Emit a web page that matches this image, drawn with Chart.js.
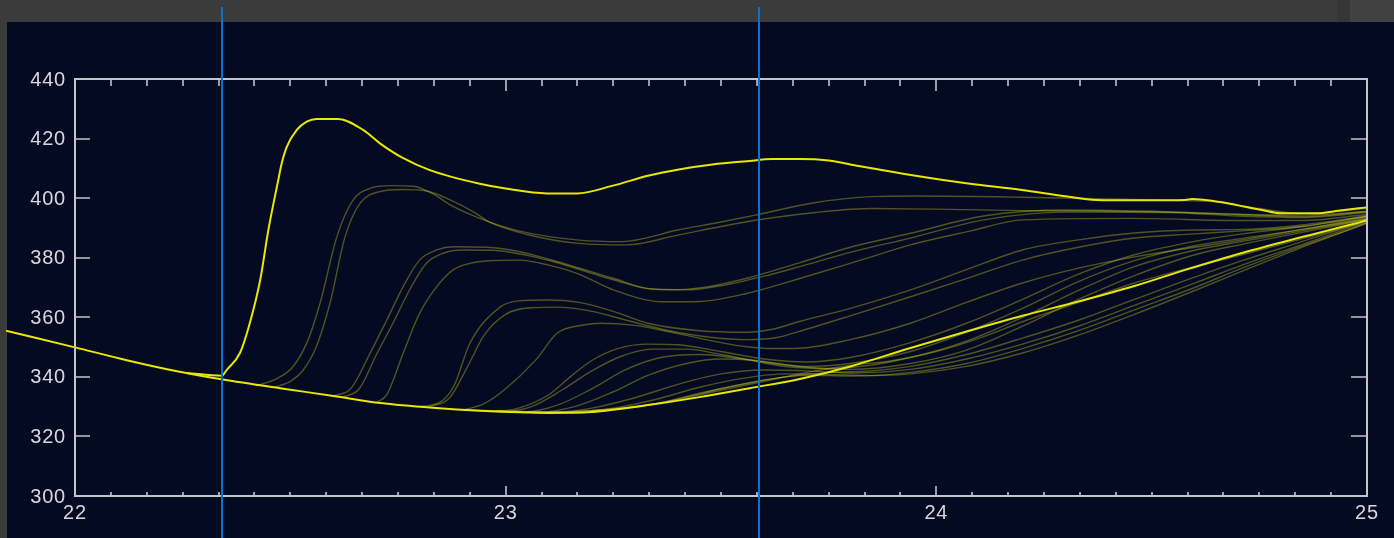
<!DOCTYPE html>
<html>
<head>
<meta charset="utf-8">
<script src="https://cdn.jsdelivr.net/npm/chart.js@4/dist/chart.umd.min.js"></script>
<style>
  html, body { margin: 0; padding: 0; background: #3b3b3b; overflow: hidden; }
  canvas { display: block; }
</style>
</head>
<body>
<canvas id="chart" width="1394" height="538"></canvas>
<script>
// Axis ranges and ticks
const xRange = [22, 25];
const yRange = [300, 440];
const xTicks = [22, 23, 24, 25];
const xMinorPerUnit = 12;
const yTicks = [300, 320, 340, 360, 380, 400, 420, 440];

// Vertical marker times (blue lines)
const markerTimes = [22.341, 23.588];

// Lower envelope (bright)
const baseline = [[21.84,355.5],[22.0,349.9],[22.12,345.6],[22.24,341.8],[22.34,339.2],[22.48,336.1],[22.6,333.6],[22.71,331.2],[22.83,329.6],[22.94,328.6],[23.1,327.9],[23.2,328.2],[23.335,330.6],[23.45,333.2],[23.567,336.2],[23.683,339.3],[23.8,343.5],[23.94,349.7],[24.07,355.2],[24.2,360.5],[24.33,365.3],[24.46,370.5],[24.58,376],[24.71,381.6],[24.84,386.6],[24.97,391.4],[25.0,392.6]];

// Upper envelope (bright)
const upper = [[22.26,341.3],[22.341,340.4],[22.352,342.3],[22.383,348],[22.406,358.1],[22.43,372.5],[22.449,389.3],[22.472,406.1],[22.48,411.7],[22.492,417.3],[22.515,422.9],[22.538,425.7],[22.561,426.6],[22.611,426.6],[22.669,422.9],[22.708,418.4],[22.76,413.6],[22.824,409.4],[22.94,404.8],[23.0,403.2],[23.096,401.6],[23.166,401.6],[23.249,404.2],[23.33,407.5],[23.405,409.7],[23.48,411.3],[23.56,412.4],[23.62,413.1],[23.683,413.1],[23.75,412.6],[23.82,410.8],[23.941,407.8],[24.07,405],[24.199,402.7],[24.3,400.6],[24.371,399.4],[24.48,399.3],[24.577,399.4],[24.594,399.7],[24.663,398.6],[24.72,397],[24.756,396],[24.8,394.9],[24.886,394.9],[24.928,395.7],[25.0,396.9]];

// Intermediate members (dim)
const memberA1 = [[22.42,337.0],[22.47,339.5],[22.506,343.4],[22.54,352],[22.569,364.7],[22.608,387],[22.646,399.4],[22.685,403.3],[22.73,404.2],[22.785,404.0],[22.83,401.5],[22.878,397.2],[22.94,393.2],[23.03,389],[23.17,385.9],[23.27,385.4],[23.4,389.3],[23.5,392],[23.58,394.3],[23.71,398.3],[23.85,400.5],[23.95,400.7],[24.2,400.3],[24.4,399.7],[24.55,399.3],[24.65,398.8],[24.75,396.5],[24.85,394.8],[25.0,396.5]];
const memberA2 = [[22.46,336.4],[22.5,338.5],[22.53,342.3],[22.56,350],[22.592,364.7],[22.627,387],[22.662,398.3],[22.708,402.2],[22.76,402.9],[22.817,402.4],[22.87,399.5],[22.93,395],[22.96,392.1],[23.05,387.8],[23.17,384.8],[23.28,384.3],[23.4,387.6],[23.5,390.5],[23.6,393],[23.72,395.2],[23.85,396.5],[24.0,396.3],[24.2,395.8],[24.4,395.6],[24.55,395.3],[24.7,394.6],[24.85,394.3],[25.0,395.5]];
const memberB1 = [[22.6,333.6],[22.64,336],[22.685,347.9],[22.724,359.1],[22.762,370.3],[22.8,379.2],[22.84,382.6],[22.878,383.7],[22.957,383.5],[23.033,382],[23.1,379.5],[23.25,373.1],[23.33,369.7],[23.4,369.3],[23.47,370.3],[23.56,373.1],[23.68,378.2],[23.8,383.5],[23.94,388.2],[24.11,394],[24.3,396],[24.54,395.4],[24.7,394.5],[24.85,393.8],[25.0,395.5]];
const memberB2 = [[22.62,333.1],[22.66,336],[22.7,347.5],[22.74,358.5],[22.778,369.5],[22.815,378],[22.855,381.5],[22.9,382.6],[22.97,382.5],[23.05,380.8],[23.12,378.3],[23.25,372.6],[23.34,369.4],[23.42,369.2],[23.5,370.6],[23.6,373.8],[23.68,376.9],[23.8,381.8],[23.94,386.6],[24.11,392.7],[24.3,395.3],[24.54,395.2],[24.7,394],[24.85,393.5],[25.0,395.2]];
const memberB3 = [[22.7,331.4],[22.724,334],[22.762,347.9],[22.8,361.3],[22.84,370.3],[22.878,375.9],[22.917,378.1],[22.96,379],[23.03,379.2],[23.1,377.5],[23.17,374.5],[23.25,369.2],[23.365,365.2],[23.45,365.3],[23.56,368],[23.71,374.2],[23.82,379],[23.94,384.3],[24.08,389],[24.2,392.7],[24.46,393.2],[24.7,392.5],[24.85,392.5],[25.0,394.5]];
const memberC1 = [[22.8,330],[22.848,331.5],[22.88,337],[22.917,351.3],[22.987,363.4],[23.03,365.5],[23.1,365.8],[23.17,365],[23.25,362],[23.33,358],[23.45,355.5],[23.56,355],[23.62,356],[23.68,358.5],[23.8,363],[23.94,369.2],[24.07,376],[24.2,382.6],[24.33,386],[24.46,388.3],[24.6,389.3],[24.71,389.5],[24.85,391],[25.0,394]];
const memberC2 = [[22.82,329.8],[22.87,333],[22.91,343],[22.95,354],[23.0,361],[23.06,363.2],[23.12,363.4],[23.2,362],[23.28,359],[23.38,355.5],[23.48,353.2],[23.56,352.5],[23.63,353.2],[23.68,355.2],[23.8,360.5],[23.94,366.9],[24.07,373],[24.2,379.2],[24.33,383.5],[24.46,386.6],[24.6,388],[24.71,389],[24.85,390.5],[25.0,393.8]];
const memberC3 = [[22.9,328.8],[22.95,331],[23.0,336],[23.07,345.7],[23.12,354.7],[23.18,357.4],[23.22,358],[23.3,357.3],[23.4,354.5],[23.5,351.5],[23.56,350.1],[23.62,349.5],[23.68,349.6],[23.8,352.5],[23.94,358],[24.07,365],[24.2,371.5],[24.33,376.5],[24.46,380.3],[24.6,383.5],[24.71,386],[24.85,389.5],[25.0,393]];
const memberD1 = [[22.9,328.9],[22.98,328.6],[23.03,329.5],[23.1,334],[23.15,340],[23.2,345.5],[23.26,349.5],[23.33,351],[23.4,350.8],[23.5,348.5],[23.6,346],[23.7,345],[23.8,346.5],[23.94,351.5],[24.07,358],[24.2,366],[24.33,374.5],[24.46,381],[24.6,385.5],[24.71,388],[24.85,390.5],[25.0,394]];
const memberD2 = [[22.92,328.8],[23.0,328.5],[23.06,330],[23.13,335.5],[23.2,342],[23.27,347],[23.34,349.3],[23.42,349.3],[23.5,347.5],[23.6,345],[23.7,343.5],[23.8,344.5],[23.94,348.5],[24.07,355],[24.2,363],[24.33,372],[24.46,379],[24.6,384],[24.71,386.5],[24.85,389.5],[25.0,393.5]];
const memberD3 = [[22.95,328.7],[23.05,328.3],[23.12,330.5],[23.2,336],[23.28,342.5],[23.36,346.5],[23.45,347.5],[23.55,346],[23.65,343.5],[23.75,342.8],[23.85,344],[23.94,346.5],[24.07,352],[24.2,360],[24.33,369],[24.46,377],[24.6,382.5],[24.71,385.5],[24.85,389],[25.0,393]];
const memberD4 = [[22.98,328.6],[23.08,328.2],[23.16,330],[23.25,335],[23.33,340.5],[23.42,344.5],[23.5,346],[23.58,345.5],[23.68,343.5],[23.8,342.5],[23.94,344.5],[24.07,349],[24.2,357],[24.33,366],[24.46,374],[24.6,381],[24.71,384.5],[24.85,388.5],[25.0,392.8]];
const memberE1 = [[23.02,328.4],[23.12,328.2],[23.2,329.5],[23.3,333],[23.4,337.5],[23.5,341],[23.6,342.3],[23.7,342],[23.8,341.3],[23.94,342.5],[24.07,346],[24.2,351],[24.33,357],[24.46,364],[24.6,371.5],[24.71,377.5],[24.84,384],[24.97,390.5],[25.0,392]];
const memberE2 = [[23.05,328.3],[23.15,328.3],[23.25,329.5],[23.35,332.5],[23.45,336.5],[23.55,339.5],[23.65,341],[23.75,340.8],[23.85,340.5],[23.94,341.5],[24.07,344.5],[24.2,349.5],[24.33,355.5],[24.46,362.5],[24.6,370],[24.71,376.5],[24.84,383.5],[24.97,390],[25.0,391.5]];
const memberE3 = [[23.1,328.2],[23.2,328.6],[23.3,329.8],[23.4,332.5],[23.5,336],[23.6,339],[23.7,340.5],[23.8,340.3],[23.94,341],[24.07,343.5],[24.2,348],[24.33,354],[24.46,361],[24.6,369],[24.71,375.5],[24.84,383],[24.97,390],[25.0,391.8]];
const memberE4 = [[23.15,328.3],[23.25,329.2],[23.35,331],[23.45,334.5],[23.55,337.5],[23.65,340],[23.75,341.5],[23.85,342],[23.94,343.5],[24.07,347.5],[24.2,353],[24.33,359],[24.46,366],[24.6,373.5],[24.71,379],[24.84,385],[24.97,391],[25.0,392.5]];
const memberF1 = [[23.2,328.6],[23.3,330],[23.4,332.3],[23.5,335.5],[23.6,338.5],[23.7,341.5],[23.8,343.8],[23.9,345.5],[24.0,348.5],[24.1,353],[24.2,358.5],[24.33,365],[24.46,371.5],[24.6,377],[24.71,381],[24.84,386],[24.97,391],[25.0,392.5]];

const members = [memberA1, memberA2, memberB1, memberB2, memberB3, memberC1, memberC2, memberC3,
                 memberD1, memberD2, memberD3, memberD4, memberE1, memberE2, memberE3, memberE4, memberF1];

const NAVY = '#040a22';
const AXIS = '#c4c4ca';
const LABEL = '#d8d8dc';

const toXY = pts => pts.map(p => ({ x: p[0], y: p[1] }));

const datasets = [];
datasets.push({ data: toXY(upper), borderColor: '#e8e800', borderWidth: 2, order: 0 });
datasets.push({ data: toXY(baseline), borderColor: '#e8e800', borderWidth: 2, order: 0 });
members.forEach(m => datasets.push({
  data: toXY(m), borderColor: 'rgba(215,215,35,0.36)', borderWidth: 1.4, order: 1
}));
datasets.forEach(d => {
  d.showLine = true; d.pointRadius = 0; d.pointHoverRadius = 0;
  d.cubicInterpolationMode = 'monotone'; d.clip = false; d.fill = false;
});

const framePlugin = {
  id: 'framePlugin',
  beforeDraw(chart) {
    const c = chart.ctx;
    c.save();
    c.fillStyle = '#3b3b3b';
    c.fillRect(0, 0, chart.width, chart.height);
    c.fillStyle = '#363636';
    c.fillRect(1337, 0, 13, 22);
    c.fillStyle = '#414141';
    c.fillRect(1350, 0, chart.width - 1350, 22);
    c.fillStyle = NAVY;
    c.fillRect(7, 22, chart.width - 7, chart.height - 22);
    c.restore();
  },
  afterDatasetsDraw(chart) {
    const c = chart.ctx;
    const a = chart.chartArea;
    const xs = chart.scales.x, ys = chart.scales.y;
    const L = Math.round(a.left), R = Math.round(a.right), T = Math.round(a.top), B = Math.round(a.bottom);
    c.save();
    c.strokeStyle = AXIS;
    c.lineWidth = 2;
    c.strokeRect(L, T, R - L, B - T);

    // x ticks: minor every 1/12, major on whole units
    c.lineWidth = 1.6;
    c.beginPath();
    const n = (xRange[1] - xRange[0]) * xMinorPerUnit;
    for (let i = 0; i <= n; i++) {
      const v = xRange[0] + i / xMinorPerUnit;
      const px = Math.round(xs.getPixelForValue(v));
      const major = i % xMinorPerUnit === 0;
      c.moveTo(px, T); c.lineTo(px, T + (major ? 12 : 7));
      c.moveTo(px, B); c.lineTo(px, B - (major ? 10 : 4));
    }
    // y ticks
    yTicks.forEach(v => {
      const py = Math.round(ys.getPixelForValue(v));
      c.moveTo(L, py); c.lineTo(L + 15, py);
      c.moveTo(R, py); c.lineTo(R - 16, py);
    });
    c.stroke();

    // tick labels
    c.fillStyle = LABEL;
    c.font = '20px "Liberation Sans", Arial, sans-serif';
    c.filter = 'blur(0.45px)';
    try { c.letterSpacing = '0.8px'; } catch (e) {}
    c.textAlign = 'right';
    c.textBaseline = 'middle';
    yTicks.forEach(v => c.fillText(String(v), L - 9, ys.getPixelForValue(v) + 1));
    c.textAlign = 'center';
    xTicks.forEach(v => c.fillText(String(v), xs.getPixelForValue(v), B + 17));
    c.filter = 'none';

    // blue marker lines
    c.strokeStyle = '#0a72cc';
    c.lineWidth = 2;
    c.beginPath();
    markerTimes.forEach(t => {
      const px = Math.round(xs.getPixelForValue(t));
      c.moveTo(px, 7); c.lineTo(px, chart.height);
    });
    c.stroke();
    c.restore();
  }
};

new Chart(document.getElementById('chart'), {
  type: 'scatter',
  data: { datasets },
  options: {
    responsive: false,
    devicePixelRatio: 1,
    animation: false,
    events: [],
    layout: { padding: { left: 75, top: 79, right: 27, bottom: 42 } },
    plugins: { legend: { display: false }, tooltip: { enabled: false } },
    scales: {
      x: { type: 'linear', min: xRange[0], max: xRange[1], display: false },
      y: { type: 'linear', min: yRange[0], max: yRange[1], display: false }
    }
  },
  plugins: [framePlugin]
});
</script>
</body>
</html>
